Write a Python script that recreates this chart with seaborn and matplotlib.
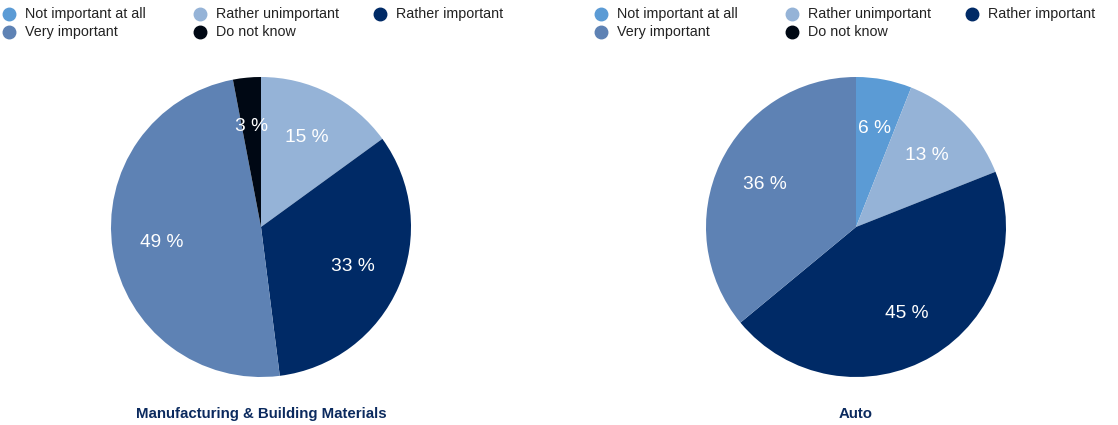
import matplotlib
matplotlib.use("Agg")
import matplotlib.pyplot as plt
from matplotlib.lines import Line2D
import seaborn as sns

# answer categories and colours
categories = ["Not important at all", "Rather unimportant", "Rather important",
              "Very important", "Do not know"]
colors = ["#5b9bd5", "#95b3d7", "#002a66", "#5e82b4", "#000814"]

# share of answers per sector (%)
manufacturing = [0, 15, 33, 49, 3]
auto = [6, 13, 45, 36, 0]

titles = ["Manufacturing & Building Materials", "Auto"]

sns.set_theme(style="white")
plt.rcParams["font.family"] = ["Liberation Sans", "DejaVu Sans"]

W, H = 1118, 425
fig = plt.figure(figsize=(W / 100, H / 100), dpi=100)
palette = sns.color_palette(colors)


def pct_label(p):
    return "" if p < 0.5 else "%d %%" % round(p)


def draw_pie(cx, cy, values, title):
    r = 150
    ax = fig.add_axes([(cx - r) / W, (H - cy - r) / H, 2 * r / W, 2 * r / H])
    wedges, texts, autotexts = ax.pie(values, colors=palette, startangle=90,
                                      counterclock=False, autopct=pct_label,
                                      pctdistance=0.67,
                                      wedgeprops=dict(linewidth=0))
    for t in autotexts:
        t.set_color("white")
        t.set_fontsize(13.8)
    ax.set_xlim(-1, 1)
    ax.set_ylim(-1, 1)
    ax.set_aspect("equal")
    fig.text(cx / W, 1 - 414 / H, title, ha="center", va="center",
             fontsize=10.8, fontweight="bold", color="#0b2a5e")


def draw_legend(x0):
    col_x = [x0, x0 + 191, x0 + 371]
    row_y = [14, 32]
    for i, (lab, c) in enumerate(zip(categories, palette)):
        x = col_x[i % 3]
        y = row_y[i // 3]
        fig.add_artist(Line2D([x / W], [1 - y / H], marker="o", markersize=9,
                              color=c, linestyle="none",
                              transform=fig.transFigure))
        fig.text((x + 16) / W, 1 - y / H, lab, ha="left", va="center",
                 fontsize=10.3, color="#222222")


draw_legend(9)
draw_legend(601)
draw_pie(261, 227, manufacturing, titles[0])
draw_pie(856, 227, auto, titles[1])

fig.savefig("out.png", dpi=100)
